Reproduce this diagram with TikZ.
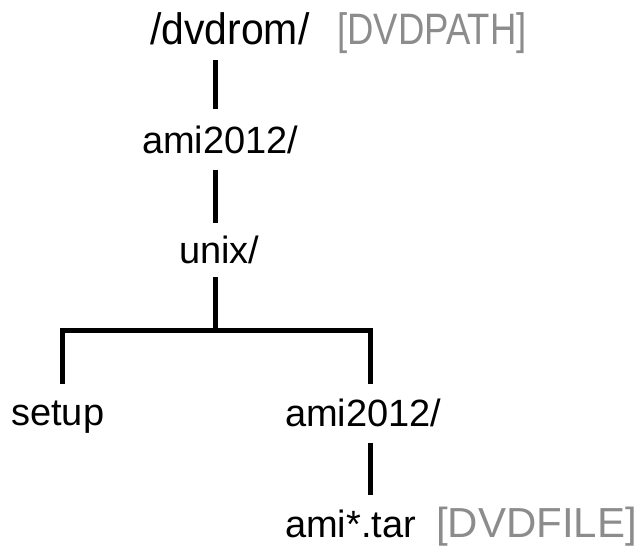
\documentclass[tikz,border=0pt]{standalone}
\usepackage{fontspec}
\setmainfont{Liberation Sans}
\definecolor{lblgray}{RGB}{140,140,140}
\begin{document}
\begin{tikzpicture}[x=1pt,y=-1pt,
  item/.style={inner sep=0pt, anchor=base west, font=\fontsize{38}{44}\selectfont, text height=29pt, text depth=8pt},
  topitem/.style={inner sep=0pt, anchor=base west, font=\fontsize{44}{50}\selectfont, text height=33pt, text depth=9pt},
  tag/.style={text=lblgray},
  link/.style={line width=5pt, line cap=butt, line join=miter}]
\useasboundingbox (0,0) rectangle (642,548);
\node[topitem] (dvd) at (150,45) {\scalebox{0.93}[1]{/dvdrom/}};
\node[topitem, tag] (dvdpath) at (337,45) {\scalebox{0.83}[1]{[DVDPATH]}};
\node[item] (ami1) at (142,154) {ami2012/};
\node[item] (unix) at (179,263) {unix/};
\node[item] (setup) at (11,425) {setup};
\node[item] (ami2) at (285,426) {ami2012/};
\node[item] (tar) at (285,537) {ami*.tar};
\node[item, tag, anchor=base east, font=\fontsize{42}{48}\selectfont] (dvdfile) at (637,537) {[DVDFILE]};
\coordinate (j) at (215,330);
\coordinate (jl) at (62,330);
\coordinate (jr) at (370,330);
\draw[link, shorten <=6pt, shorten >=16pt] (dvd.south -| j) -- (ami1.north -| j);
\draw[link, shorten <=8pt, shorten >=11pt] (ami1.south -| j) -- (unix.north -| j);
\draw[link, shorten <=6pt] (unix.south -| j) -- (j);
\draw[link, shorten <=12pt, shorten >=13pt] (setup.north -| jl) -- (jl) -- (jr) -- (ami2.north -| jr);
\draw[link, shorten <=9pt, shorten >=13pt] (ami2.south -| jr) -- (tar.north -| jr);
\end{tikzpicture}
\end{document}
